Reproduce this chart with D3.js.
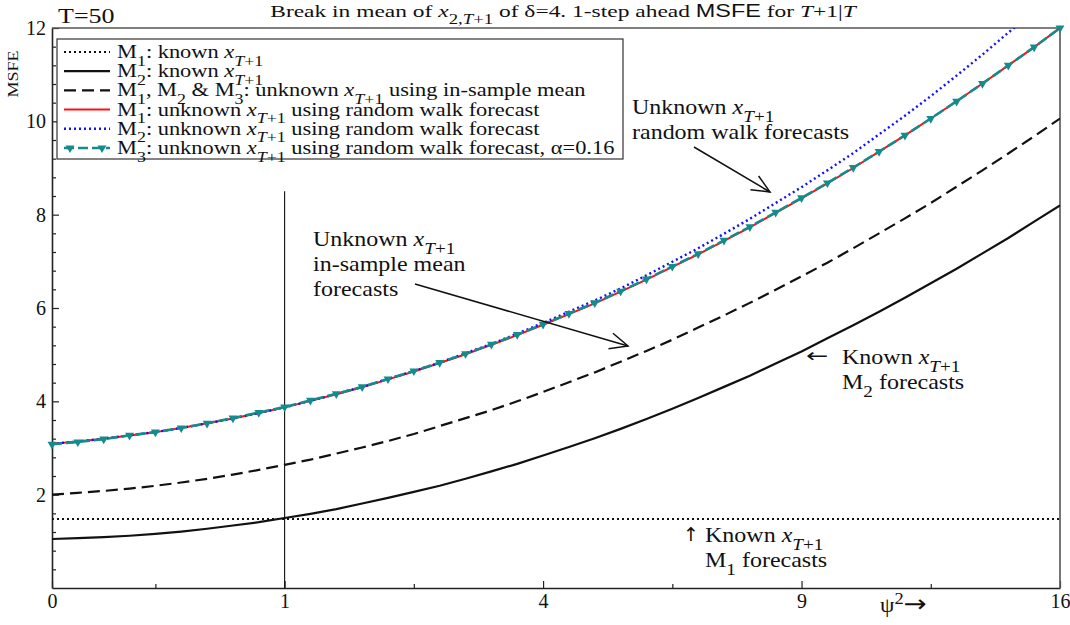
<!DOCTYPE html>
<html>
<head>
<meta charset="utf-8">
<script src="https://cdn.jsdelivr.net/npm/d3@7"></script>
<style>
  body { margin: 0; background: #fff; }
  svg { display: block; }
  text { font-family: 'Liberation Serif', 'Times New Roman', serif; fill: #111; }
</style>
</head>
<body>
<div class="chart-container"></div>
<script>
// Data (x is psi^2, y is MSFE)
const psi2 = [0.01, 0.04, 0.09, 0.16, 0.25, 0.36, 0.49, 0.64, 0.81, 1,
              1.21, 1.44, 1.69, 1.96, 2.25, 2.56, 2.89, 3.24, 3.61, 4,
              4.41, 4.84, 5.29, 5.76, 6.25, 6.76, 7.29, 7.84, 8.41, 9,
              9.61, 10.24, 10.89, 11.56, 12.25, 12.96, 13.69, 14.44, 15.21, 16];

const knownM1X = [0.01, 16];
const knownM1Y = [1.48, 1.48];

const knownM2 = [1.05, 1.07, 1.09, 1.12, 1.16, 1.21, 1.27, 1.34, 1.41, 1.50,
                 1.59, 1.69, 1.81, 1.93, 2.06, 2.19, 2.34, 2.50, 2.66, 2.84,
                 3.02, 3.21, 3.41, 3.62, 3.84, 4.07, 4.31, 4.55, 4.81, 5.07,
                 5.35, 5.63, 5.92, 6.22, 6.53, 6.84, 7.17, 7.50, 7.85, 8.20];

const inSample = [2.00, 2.04, 2.08, 2.13, 2.19, 2.26, 2.34, 2.43, 2.53, 2.64,
                  2.75, 2.88, 3.01, 3.15, 3.30, 3.47, 3.64, 3.81, 4.00, 4.20,
                  4.41, 4.62, 4.85, 5.08, 5.32, 5.58, 5.84, 6.11, 6.39, 6.68,
                  6.97, 7.28, 7.60, 7.92, 8.25, 8.60, 8.95, 9.31, 9.68, 10.06];

const rwM1 = [3.09, 3.14, 3.20, 3.27, 3.34, 3.43, 3.53, 3.63, 3.75, 3.87,
              4.01, 4.15, 4.30, 4.47, 4.64, 4.82, 5.01, 5.21, 5.42, 5.64,
              5.87, 6.10, 6.35, 6.61, 6.88, 7.15, 7.44, 7.73, 8.04, 8.35,
              8.67, 9.00, 9.35, 9.70, 10.06, 10.43, 10.81, 11.20, 11.59, 12.00];

const rwM2 = [3.09, 3.14, 3.20, 3.27, 3.34, 3.43, 3.53, 3.63, 3.75, 3.87,
              4.01, 4.16, 4.31, 4.48, 4.65, 4.83, 5.03, 5.23, 5.45, 5.68,
              5.92, 6.16, 6.42, 6.70, 6.99, 7.28, 7.59, 7.91, 8.25, 8.59,
              8.95, 9.32, 9.72, 10.12, 10.54, 10.98, 11.43, 11.90, 12.37, 12.88];

const rwM3 = [3.08, 3.13, 3.19, 3.27, 3.34, 3.43, 3.53, 3.64, 3.76, 3.88,
              4.02, 4.16, 4.31, 4.48, 4.65, 4.83, 5.02, 5.22, 5.43, 5.65,
              5.88, 6.11, 6.36, 6.62, 6.89, 7.16, 7.45, 7.74, 8.05, 8.36,
              8.68, 9.01, 9.35, 9.70, 10.06, 10.43, 10.81, 11.20, 11.59, 12.00];

const xTickValues = [0.01, 1, 4, 9, 16];
const xTickLabels = ['0', '1', '4', '9', '16'];
const xMinorTicks = [0.25, 2.25, 6.25, 12.25];
const yTickValues = [2, 4, 6, 8, 10, 12];

// Text helpers
const t = s => ({ t: s });
const i = s => ({ t: s, it: true });
const sb = s => ({ t: s, sub: true });
const si = s => ({ t: s, sub: true, it: true });
const xT1 = [i('x'), si('T'), sb('+1')];
const SANS = "'DejaVu Sans', 'Liberation Sans', sans-serif";

function richText(parent, x, y, parts, o = {}) {
    const size = o.size || 20;
    const sx = o.sx || 1.15;
    const el = parent.append('text')
        .attr('transform', `translate(${x},${y}) scale(${sx},1)`)
        .attr('font-size', size)
        .attr('text-anchor', o.anchor || 'start');
    let shift = 0;
    parts.forEach(p => {
        const ts = el.append('tspan').text(p.t);
        const want = p.sub ? size * 0.4 : p.sup ? -size * 0.42 : 0;
        if (want !== shift) { ts.attr('dy', want - shift); shift = want; }
        if (p.sub || p.sup) ts.attr('font-size', size * 0.8);
        if (p.it) ts.attr('font-style', 'italic');
        if (p.sans) ts.attr('font-family', "'Liberation Sans', Arial, sans-serif");
        if (p.font) ts.attr('font-family', p.font);
        if (p.size) ts.attr('font-size', p.size);
    });
    return el;
}

// Layout
const W = 1070, H = 625;
const margin = { top: 28, right: 10, bottom: 37, left: 52 };
const width = W - margin.left - margin.right;
const height = H - margin.top - margin.bottom;

const svg = d3.select('.chart-container')
    .append('svg')
    .attr('width', W)
    .attr('height', H);

const g = svg.append('g')
    .attr('transform', `translate(${margin.left},${margin.top})`);

// Scales
const xScale = d3.scaleSqrt().domain([0.01, 16]).range([0, width]);
const yScale = d3.scaleLinear().domain([0, 12]).range([height, 0]);

const defs = svg.append('defs');
defs.append('clipPath').attr('id', 'plot-clip')
    .append('rect').attr('width', width).attr('height', height);

defs.append('marker')
    .attr('id', 'open-head')
    .attr('viewBox', '-20 -10 22 20')
    .attr('refX', 0).attr('refY', 0)
    .attr('markerWidth', 22).attr('markerHeight', 20)
    .attr('markerUnits', 'userSpaceOnUse')
    .attr('orient', 'auto')
    .append('path')
    .attr('d', 'M-18,-8 L0,0 L-18,8')
    .attr('fill', 'none')
    .attr('stroke', '#111')
    .attr('stroke-width', 1.5);

// Axes
const xAxis = d3.axisBottom(xScale)
    .tickValues(xTickValues)
    .tickFormat((d, k) => xTickLabels[k])
    .tickSizeInner(-7)
    .tickSizeOuter(0)
    .tickPadding(6);

const xAxisDraw = g.append('g')
    .attr('class', 'x axis')
    .attr('transform', `translate(0, ${height})`)
    .call(xAxis);

g.append('g')
    .attr('transform', `translate(0, ${height})`)
    .call(d3.axisBottom(xScale).tickValues(xMinorTicks).tickFormat('').tickSizeInner(-4).tickSizeOuter(0))
    .call(a => a.select('.domain').remove());

const yAxis = d3.axisLeft(yScale)
    .tickValues(yTickValues)
    .tickFormat(d3.format('d'))
    .tickSizeInner(-7)
    .tickSizeOuter(0)
    .tickPadding(6);

const yAxisDraw = g.append('g')
    .attr('class', 'y axis')
    .call(yAxis);

g.append('g')
    .call(d3.axisLeft(yScale)
        .tickValues(d3.range(1, 30).map(k => k * 0.4).filter(v => Math.abs(v / 2 - Math.round(v / 2)) > 0.01))
        .tickFormat('').tickSizeInner(-4).tickSizeOuter(0))
    .call(a => a.select('.domain').remove());

[xAxisDraw, yAxisDraw].forEach(a => {
    a.attr('font-family', null).attr('font-size', null);
    a.selectAll('text').attr('font-size', 20).style('fill', '#111');
});
g.selectAll('.tick line').attr('stroke', '#222').attr('stroke-width', 1.2);
g.selectAll('.domain').attr('stroke', '#222').attr('stroke-width', 1.6);

// Frame (top and right)
g.append('path')
    .attr('d', `M0,0 H${width} V${height}`)
    .attr('fill', 'none')
    .attr('stroke', '#555')
    .attr('stroke-width', 1.6);

// Lines
const plot = g.append('g').attr('clip-path', 'url(#plot-clip)');
const line = d3.line().x(d => xScale(d[0])).y(d => yScale(d[1]));
const pairs = ys => psi2.map((x, k) => [x, ys[k]]);

// vertical reference at psi^2 = 1
plot.append('line')
    .attr('x1', xScale(1)).attr('x2', xScale(1))
    .attr('y1', yScale(8.5)).attr('y2', yScale(0))
    .attr('stroke', '#111').attr('stroke-width', 1.1);

const series = [
    { data: knownM1X.map((x, k) => [x, knownM1Y[k]]), color: '#111', width: 2, dash: '2,3' },
    { data: pairs(knownM2), color: '#111', width: 2.2, dash: null },
    { data: pairs(inSample), color: '#111', width: 2.2, dash: '12,6' },
    { data: pairs(rwM1), color: '#ff1010', width: 2, dash: null },
    { data: pairs(rwM2), color: '#1010ff', width: 2.4, dash: '2,3' },
    { data: pairs(rwM3), color: '#168b8b', width: 2.6, dash: '10,4' }
];

plot.selectAll('.series')
    .data(series)
    .enter()
    .append('path')
    .attr('class', 'series')
    .attr('d', d => line(d.data))
    .attr('fill', 'none')
    .attr('stroke', d => d.color)
    .attr('stroke-width', d => d.width)
    .attr('stroke-dasharray', d => d.dash);

const tri = d3.symbol(d3.symbolTriangle, 34)();
g.selectAll('.m3-marker')
    .data(pairs(rwM3))
    .enter()
    .append('path')
    .attr('class', 'm3-marker')
    .attr('d', tri)
    .attr('transform', d => `translate(${xScale(d[0])},${yScale(d[1])}) rotate(180)`)
    .attr('fill', '#168b8b');

// Legend
const legendRows = [
    [t('M'), sb('1'), t(': known '), ...xT1],
    [t('M'), sb('2'), t(': known '), ...xT1],
    [t('M'), sb('1'), t(', M'), sb('2'), t(' & M'), sb('3'), t(': unknown '), ...xT1, t(' using in-sample mean')],
    [t('M'), sb('1'), t(': unknown '), ...xT1, t(' using random walk forecast')],
    [t('M'), sb('2'), t(': unknown '), ...xT1, t(' using random walk forecast')],
    [t('M'), sb('3'), t(': unknown '), ...xT1, t(' using random walk forecast, α=0.16')]
];

const legend = svg.append('g').attr('class', 'legend');
legend.append('rect')
    .attr('x', 57).attr('y', 39).attr('width', 566).attr('height', 120)
    .attr('fill', '#fff').attr('stroke', '#333').attr('stroke-width', 1.2);

legendRows.forEach((row, k) => {
    const ly = 52 + k * 19.2;
    const s = series[k];
    legend.append('line')
        .attr('x1', 64).attr('x2', 110).attr('y1', ly).attr('y2', ly)
        .attr('stroke', s.color).attr('stroke-width', s.width)
        .attr('stroke-dasharray', s.dash);
    if (k === 5) {
        [70, 102].forEach(mx => legend.append('path').attr('d', tri)
            .attr('transform', `translate(${mx},${ly}) rotate(180)`).attr('fill', s.color));
    }
    richText(legend, 117, ly + 6, row, { size: 19, sx: 1.18 });
});

// Titles and labels
richText(svg, 563, 17, [t('Break in mean of '), i('x'), sb('2,'), si('T'), sb('+1'),
    t(' of δ=4. 1-step ahead '), { t: 'MSFE', sans: true }, t(' for '), i('T'), t('+1|'), i('T')],
    { size: 17.5, anchor: 'middle', sx: 1.34 });

richText(svg, 58, 23, [t('T=50')], { size: 20, sx: 1.3 });

svg.append('text')
    .attr('transform', 'translate(18,74) rotate(-90) scale(1.2,1)')
    .attr('text-anchor', 'middle')
    .attr('font-size', 15)
    .text('MSFE');

richText(svg, 880, 612, [t('ψ'), { t: '2', sup: true }, { t: '→', size: 24, font: SANS }], { size: 20, sx: 1.15 });

// Annotations (pixel placed)
const annotations = [
    { x: 632, y: 114, lines: [[t('Unknown '), ...xT1], [t('random walk forecasts')]] },
    { x: 313, y: 246, lines: [[t('Unknown '), ...xT1], [t('in-sample mean')], [t('forecasts')]] },
    { x: 842, y: 364, lines: [[t('Known '), ...xT1], [t('M'), sb('2'), t(' forecasts')]] },
    { x: 705, y: 542, lines: [[t('Known '), ...xT1], [t('M'), sb('1'), t(' forecasts')]] }
];

annotations.forEach(a => {
    a.lines.forEach((ln, k) => {
        richText(svg, a.x, a.y + k * 25, ln, { size: 20, sx: 1.2 });
    });
});

svg.append('text').attr('transform', 'translate(806,362) scale(1.4,1)')
    .attr('font-size', 19).style('font-family', SANS).text('←');
svg.append('text').attr('transform', 'translate(683,541)')
    .attr('font-size', 19).style('font-family', SANS).text('↑');

const arrows = [
    { from: [694, 147], to: [770, 192] },
    { from: [415, 284], to: [628, 346] }
];

svg.selectAll('.arrow')
    .data(arrows)
    .enter()
    .append('line')
    .attr('class', 'arrow')
    .attr('x1', d => d.from[0]).attr('y1', d => d.from[1])
    .attr('x2', d => d.to[0]).attr('y2', d => d.to[1])
    .attr('stroke', '#111').attr('stroke-width', 1.5)
    .attr('marker-end', 'url(#open-head)');
</script>
</body>
</html>
